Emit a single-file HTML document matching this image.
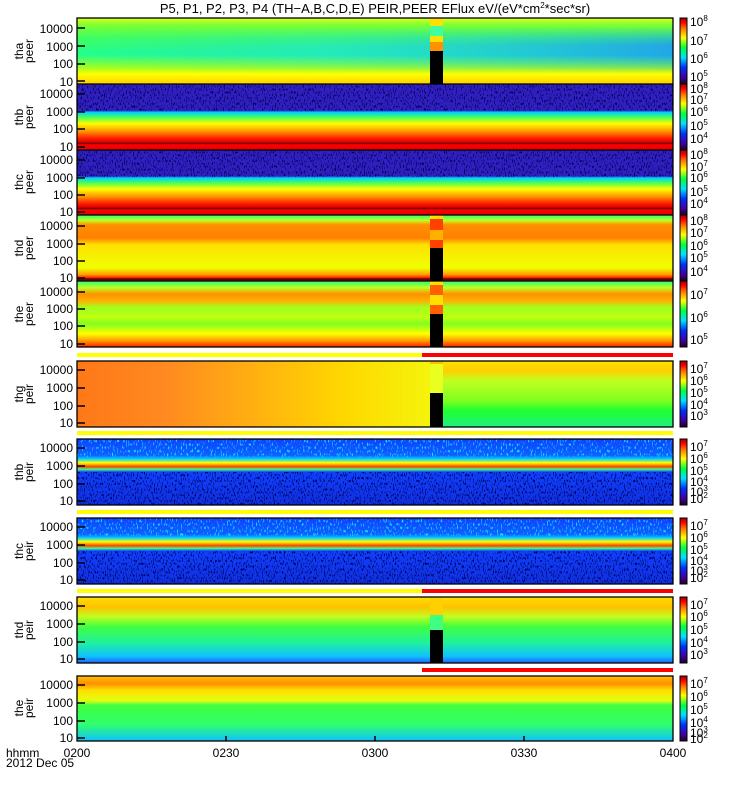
<!DOCTYPE html>
<html><head><meta charset="utf-8"><style>
html,body{margin:0;padding:0;background:#fff;width:750px;height:800px;overflow:hidden}
svg{display:block;font-family:"Liberation Sans",sans-serif}
</style></head><body>
<svg width="750" height="800" viewBox="0 0 750 800" xmlns="http://www.w3.org/2000/svg">
<defs>
<linearGradient id="cb" x1="0" y1="1" x2="0" y2="0">
<stop offset="0" stop-color="#200020"/><stop offset="0.1" stop-color="#4000a0"/><stop offset="0.25" stop-color="#0030ff"/>
<stop offset="0.4" stop-color="#00e0ff"/><stop offset="0.55" stop-color="#00ff40"/><stop offset="0.7" stop-color="#ffff00"/>
<stop offset="0.83" stop-color="#ff8000"/><stop offset="0.93" stop-color="#ff0000"/><stop offset="1" stop-color="#a00000"/>
</linearGradient>
<linearGradient id="g1" x1="0" y1="0" x2="0" y2="1">
<stop offset="0" stop-color="#e0ff20"/><stop offset="0.1" stop-color="#80ff30"/><stop offset="0.3" stop-color="#40ff60"/>
<stop offset="0.55" stop-color="#20ff90"/><stop offset="0.75" stop-color="#a0ff20"/><stop offset="0.85" stop-color="#ffff00"/><stop offset="1" stop-color="#ffd000"/>
</linearGradient>
<linearGradient id="g1h" x1="0" y1="0" x2="1" y2="0">
<stop offset="0" stop-color="#20c0ff" stop-opacity="0"/><stop offset="0.4" stop-color="#20d0ff" stop-opacity="0.4"/><stop offset="1" stop-color="#2090ff" stop-opacity="0.8"/>
</linearGradient>
<linearGradient id="mv" x1="0" y1="0" x2="0" y2="1">
<stop offset="0" stop-color="#fff" stop-opacity="0"/><stop offset="0.4" stop-color="#fff" stop-opacity="1"/><stop offset="0.6" stop-color="#fff" stop-opacity="1"/><stop offset="1" stop-color="#fff" stop-opacity="0"/>
</linearGradient>
<mask id="m1"><rect x="77" y="26" width="596" height="48" fill="url(#mv)"/></mask>
<linearGradient id="g2" x1="0" y1="0" x2="0" y2="1">
<stop offset="0" stop-color="#3020c0"/><stop offset="0.4" stop-color="#3020c0"/><stop offset="0.43" stop-color="#00d0ff"/>
<stop offset="0.5" stop-color="#40ff60"/><stop offset="0.6" stop-color="#ffff00"/><stop offset="0.72" stop-color="#ff9000"/>
<stop offset="0.82" stop-color="#ff2000"/><stop offset="0.88" stop-color="#e00000"/><stop offset="0.9" stop-color="#600000"/><stop offset="0.92" stop-color="#ff0000"/><stop offset="1" stop-color="#e00000"/>
</linearGradient>
<linearGradient id="g4" x1="0" y1="0" x2="0" y2="1">
<stop offset="0" stop-color="#20ff80"/><stop offset="0.08" stop-color="#c0ff20"/><stop offset="0.15" stop-color="#ff9000"/>
<stop offset="0.35" stop-color="#ff8000"/><stop offset="0.45" stop-color="#ffe000"/><stop offset="0.8" stop-color="#f0ff00"/>
<stop offset="0.9" stop-color="#ffa000"/><stop offset="0.95" stop-color="#ff2000"/><stop offset="0.97" stop-color="#400000"/><stop offset="1" stop-color="#ff0000"/>
</linearGradient>
<linearGradient id="g5" x1="0" y1="0" x2="0" y2="1">
<stop offset="0" stop-color="#20ff80"/><stop offset="0.1" stop-color="#c0ff20"/><stop offset="0.2" stop-color="#ff9000"/>
<stop offset="0.3" stop-color="#ffb000"/><stop offset="0.4" stop-color="#a0ff20"/><stop offset="0.55" stop-color="#c0ff10"/>
<stop offset="0.65" stop-color="#80ff20"/><stop offset="0.8" stop-color="#ffff00"/><stop offset="0.9" stop-color="#ffa000"/><stop offset="1" stop-color="#ff2000"/>
</linearGradient>
<linearGradient id="g6" x1="0" y1="0" x2="1" y2="0">
<stop offset="0" stop-color="#ff7818"/><stop offset="0.15" stop-color="#ff8a20"/><stop offset="0.45" stop-color="#ffd800"/>
<stop offset="0.65" stop-color="#f0ff10"/><stop offset="1" stop-color="#b0ff20"/>
</linearGradient>
<linearGradient id="g6r" x1="0" y1="0" x2="0" y2="1">
<stop offset="0" stop-color="#ffe000"/><stop offset="0.15" stop-color="#ffd000"/><stop offset="0.3" stop-color="#c0ff20"/>
<stop offset="0.6" stop-color="#80ff20"/><stop offset="0.75" stop-color="#20ff30"/><stop offset="1" stop-color="#20f080"/>
</linearGradient>
<linearGradient id="g7" x1="0" y1="0" x2="0" y2="1">
<stop offset="0" stop-color="#1040ff"/><stop offset="0.25" stop-color="#1060ff"/><stop offset="0.3" stop-color="#00d0ff"/>
<stop offset="0.36" stop-color="#ffff00"/><stop offset="0.42" stop-color="#ff4000"/><stop offset="0.46" stop-color="#40ff80"/>
<stop offset="0.5" stop-color="#1040ff"/><stop offset="1" stop-color="#1030e0"/>
</linearGradient>
<linearGradient id="g9" x1="0" y1="0" x2="0" y2="1">
<stop offset="0" stop-color="#ffe000"/><stop offset="0.15" stop-color="#ffc000"/><stop offset="0.3" stop-color="#c0ff20"/>
<stop offset="0.45" stop-color="#40ff40"/><stop offset="0.7" stop-color="#20f0a0"/><stop offset="0.9" stop-color="#10c0ff"/><stop offset="1" stop-color="#2060ff"/>
</linearGradient>
<linearGradient id="g10" x1="0" y1="0" x2="0" y2="1">
<stop offset="0" stop-color="#ffc000"/><stop offset="0.12" stop-color="#ff9000"/><stop offset="0.22" stop-color="#ffe000"/>
<stop offset="0.38" stop-color="#e0ff10"/><stop offset="0.45" stop-color="#40ff40"/><stop offset="0.75" stop-color="#30ff70"/><stop offset="1" stop-color="#10c0ff"/>
</linearGradient>
<filter id="nz" x="0" y="0" width="100%" height="100%">
<feTurbulence type="fractalNoise" baseFrequency="0.9 0.35" numOctaves="1" seed="3"/>
<feColorMatrix type="matrix" values="0 0 0 0 0  0 0 0 0 0  0 0 0 0 0.1  0 0 0 6 -3.2"/>
</filter>
<filter id="nz2" x="0" y="0" width="100%" height="100%">
<feTurbulence type="fractalNoise" baseFrequency="0.8 0.3" numOctaves="1" seed="7"/>
<feColorMatrix type="matrix" values="0 0 0 0 0  0 0 0 0 0.9  0 0 0 0 1  0 0 0 6 -3.4"/>
</filter>
</defs>

<text x="375" y="13" font-size="13" text-anchor="middle">P5, P1, P2, P3, P4 (TH−A,B,C,D,E) PEIR,PEER EFlux eV/(eV*cm<tspan font-size="8" dy="-5">2</tspan><tspan dy="5">*sec*sr)</tspan></text>

<!-- panel 1 -->
<rect x="77" y="18" width="596" height="66" fill="url(#g1)"/>
<rect x="77" y="26" width="596" height="48" fill="url(#g1h)" mask="url(#m1)"/>
<rect x="430" y="18" width="13" height="33" fill="#ffe000"/><rect x="430" y="26" width="13" height="10" fill="#40ffa0"/><rect x="430" y="42" width="13" height="9" fill="#ff9000"/>
<rect x="430" y="51" width="13" height="33" fill="#000"/>
<!-- panel 2 -->
<rect x="77" y="84" width="596" height="66" fill="url(#g2)"/>
<rect x="77" y="84" width="596" height="27" filter="url(#nz)"/>
<!-- panel 3 -->
<rect x="77" y="150" width="596" height="65" fill="url(#g2)"/>
<rect x="77" y="150" width="596" height="27" filter="url(#nz)"/>
<!-- panel 4 -->
<rect x="77" y="215" width="596" height="66" fill="url(#g4)"/>
<rect x="430" y="215" width="13" height="33" fill="#ff4000"/><rect x="430" y="215" width="13" height="4" fill="#ffe000"/><rect x="430" y="230" width="13" height="10" fill="#ffb000"/>
<rect x="430" y="248" width="13" height="33" fill="#000"/>
<!-- panel 5 -->
<rect x="77" y="281" width="596" height="66" fill="url(#g5)"/>
<rect x="430" y="281" width="13" height="33" fill="#ff6000"/><rect x="430" y="281" width="13" height="4" fill="#ffe000"/><rect x="430" y="295" width="13" height="10" fill="#ffe000"/>
<rect x="430" y="314" width="13" height="33" fill="#000"/>
<rect x="77" y="353" width="345" height="4" fill="#ffff00"/><rect x="422" y="353" width="251" height="4" fill="#ff0000"/>
<!-- panel 6 -->
<rect x="77" y="361" width="596" height="66" fill="url(#g6)"/>
<rect x="443" y="361" width="230" height="66" fill="url(#g6r)"/>
<rect x="430" y="361" width="13" height="32" fill="#e8ff20"/><rect x="430" y="361" width="13" height="3" fill="#ffc000"/>
<rect x="430" y="393" width="13" height="34" fill="#000"/>
<rect x="77" y="431" width="596" height="4" fill="#ffff00"/>
<!-- panel 7 -->
<rect x="77" y="439" width="596" height="66" fill="url(#g7)"/>
<rect x="77" y="439" width="596" height="18" filter="url(#nz2)"/>
<rect x="77" y="472" width="596" height="33" filter="url(#nz)"/>
<rect x="77" y="510" width="596" height="4" fill="#ffff00"/>
<!-- panel 8 -->
<rect x="77" y="518" width="596" height="66" fill="url(#g7)"/>
<rect x="77" y="518" width="596" height="18" filter="url(#nz2)"/>
<rect x="77" y="551" width="596" height="33" filter="url(#nz)"/>
<rect x="77" y="589" width="345" height="4" fill="#ffff00"/><rect x="422" y="589" width="251" height="4" fill="#ff0000"/>
<!-- panel 9 -->
<rect x="77" y="597" width="596" height="66" fill="url(#g9)"/>
<rect x="430" y="597" width="13" height="33" fill="#ffd000"/><rect x="430" y="615" width="13" height="15" fill="#40ff80"/>
<rect x="430" y="630" width="13" height="33" fill="#000"/>
<rect x="422" y="668" width="251" height="4" fill="#ff0000"/>
<!-- panel 10 -->
<rect x="77" y="676" width="596" height="65" fill="url(#g10)"/>

<g fill="none" stroke="#000" stroke-width="1.3">
<rect x="77" y="18" width="596" height="329"/>
<line x1="77" y1="84" x2="673" y2="84"/><line x1="77" y1="150" x2="673" y2="150"/><line x1="77" y1="215" x2="673" y2="215"/><line x1="77" y1="281" x2="673" y2="281"/>
<rect x="77" y="361" width="596" height="66"/><rect x="77" y="439" width="596" height="66"/><rect x="77" y="518" width="596" height="66"/><rect x="77" y="597" width="596" height="66"/><rect x="77" y="676" width="596" height="65"/>
</g>
<g stroke="#000" stroke-width="1.5">
<line x1="226" y1="736" x2="226" y2="741"/><line x1="375" y1="736" x2="375" y2="741"/><line x1="524" y1="736" x2="524" y2="741"/>
<!-- y major ticks -->
<path d="M77 28h8M77 46h8M77 64h8M77 81h8M77 94h8M77 112h8M77 129h8M77 147h8M77 160h8M77 178h8M77 195h8M77 212h8M77 226h8M77 244h8M77 261h8M77 278h8M77 292h8M77 309h8M77 326h8M77 344h8M77 370h8M77 388h8M77 406h8M77 423h8M77 448h8M77 466h8M77 484h8M77 501h8M77 527h8M77 545h8M77 563h8M77 580h8M77 606h8M77 624h8M77 642h8M77 659h8M77 685h8M77 703h8M77 721h8M77 738h8"/>
</g>
<!-- colorbars -->
<g fill="url(#cb)" stroke="#000" stroke-width="1">
<rect x="680" y="18" width="7" height="66"/><rect x="680" y="84" width="7" height="66"/><rect x="680" y="150" width="7" height="65"/><rect x="680" y="215" width="7" height="66"/><rect x="680" y="281" width="7" height="66"/>
<rect x="680" y="361" width="7" height="66"/><rect x="680" y="439" width="7" height="66"/><rect x="680" y="518" width="7" height="66"/><rect x="680" y="597" width="7" height="66"/><rect x="680" y="676" width="7" height="65"/>
</g>
<g font-size="12" fill="#000">
<g text-anchor="end">
<text x="73" y="33">10000</text><text x="73" y="51">1000</text><text x="73" y="68">100</text><text x="73" y="86">10</text>
<text x="73" y="98">10000</text><text x="73" y="116">1000</text><text x="73" y="133">100</text><text x="73" y="151">10</text>
<text x="73" y="164">10000</text><text x="73" y="182">1000</text><text x="73" y="199">100</text><text x="73" y="216">10</text>
<text x="73" y="230">10000</text><text x="73" y="248">1000</text><text x="73" y="265">100</text><text x="73" y="282">10</text>
<text x="73" y="296">10000</text><text x="73" y="313">1000</text><text x="73" y="330">100</text><text x="73" y="348">10</text>
<text x="73" y="374">10000</text><text x="73" y="392">1000</text><text x="73" y="410">100</text><text x="73" y="427">10</text>
<text x="73" y="452">10000</text><text x="73" y="470">1000</text><text x="73" y="488">100</text><text x="73" y="505">10</text>
<text x="73" y="531">10000</text><text x="73" y="549">1000</text><text x="73" y="567">100</text><text x="73" y="584">10</text>
<text x="73" y="610">10000</text><text x="73" y="628">1000</text><text x="73" y="646">100</text><text x="73" y="663">10</text>
<text x="73" y="689">10000</text><text x="73" y="707">1000</text><text x="73" y="725">100</text><text x="73" y="742">10</text>
</g>
<g text-anchor="middle" font-size="12">
<text transform="translate(23,51) rotate(-90)">tha</text><text transform="translate(33,51) rotate(-90)">peer</text>
<text transform="translate(23,117) rotate(-90)">thb</text><text transform="translate(33,117) rotate(-90)">peer</text>
<text transform="translate(23,182) rotate(-90)">thc</text><text transform="translate(33,182) rotate(-90)">peer</text>
<text transform="translate(23,248) rotate(-90)">thd</text><text transform="translate(33,248) rotate(-90)">peer</text>
<text transform="translate(23,314) rotate(-90)">the</text><text transform="translate(33,314) rotate(-90)">peer</text>
<text transform="translate(23,394) rotate(-90)">thg</text><text transform="translate(33,394) rotate(-90)">peir</text>
<text transform="translate(23,472) rotate(-90)">thb</text><text transform="translate(33,472) rotate(-90)">peir</text>
<text transform="translate(23,551) rotate(-90)">thc</text><text transform="translate(33,551) rotate(-90)">peir</text>
<text transform="translate(23,630) rotate(-90)">thd</text><text transform="translate(33,630) rotate(-90)">peir</text>
<text transform="translate(23,708) rotate(-90)">the</text><text transform="translate(33,708) rotate(-90)">peir</text>
</g>
<g text-anchor="middle"><text x="77" y="757">0200</text><text x="226" y="757">0230</text><text x="375" y="757">0300</text><text x="524" y="757">0330</text><text x="673" y="757">0400</text></g>
<text x="6" y="757">hhmm</text><text x="6" y="767">2012 Dec 05</text>
<g font-size="12">
<text x="690" y="26">10<tspan font-size="8" dy="-5">8</tspan></text><text x="690" y="45">10<tspan font-size="8" dy="-5">7</tspan></text><text x="690" y="63">10<tspan font-size="8" dy="-5">6</tspan></text><text x="690" y="81">10<tspan font-size="8" dy="-5">5</tspan></text>
<text x="690" y="93">10<tspan font-size="8" dy="-5">8</tspan></text><text x="690" y="104">10<tspan font-size="8" dy="-5">7</tspan></text><text x="690" y="116">10<tspan font-size="8" dy="-5">6</tspan></text><text x="690" y="130">10<tspan font-size="8" dy="-5">5</tspan></text><text x="690" y="143">10<tspan font-size="8" dy="-5">4</tspan></text>
<text x="690" y="159">10<tspan font-size="8" dy="-5">8</tspan></text><text x="690" y="171">10<tspan font-size="8" dy="-5">7</tspan></text><text x="690" y="182">10<tspan font-size="8" dy="-5">6</tspan></text><text x="690" y="196">10<tspan font-size="8" dy="-5">5</tspan></text><text x="690" y="208">10<tspan font-size="8" dy="-5">4</tspan></text>
<text x="690" y="225">10<tspan font-size="8" dy="-5">8</tspan></text><text x="690" y="237">10<tspan font-size="8" dy="-5">7</tspan></text><text x="690" y="250">10<tspan font-size="8" dy="-5">6</tspan></text><text x="690" y="262">10<tspan font-size="8" dy="-5">5</tspan></text><text x="690" y="276">10<tspan font-size="8" dy="-5">4</tspan></text>
<text x="690" y="299">10<tspan font-size="8" dy="-5">7</tspan></text><text x="690" y="322">10<tspan font-size="8" dy="-5">6</tspan></text><text x="690" y="344">10<tspan font-size="8" dy="-5">5</tspan></text>
<text x="690" y="373">10<tspan font-size="8" dy="-5">7</tspan></text><text x="690" y="385">10<tspan font-size="8" dy="-5">6</tspan></text><text x="690" y="397">10<tspan font-size="8" dy="-5">5</tspan></text><text x="690" y="409">10<tspan font-size="8" dy="-5">4</tspan></text><text x="690" y="420">10<tspan font-size="8" dy="-5">3</tspan></text>
<text x="690" y="451">10<tspan font-size="8" dy="-5">7</tspan></text><text x="690" y="463">10<tspan font-size="8" dy="-5">6</tspan></text><text x="690" y="475">10<tspan font-size="8" dy="-5">5</tspan></text><text x="690" y="486">10<tspan font-size="8" dy="-5">4</tspan></text><text x="690" y="496">10<tspan font-size="8" dy="-5">3</tspan></text><text x="690" y="503">10<tspan font-size="8" dy="-5">2</tspan></text>
<text x="690" y="530">10<tspan font-size="8" dy="-5">7</tspan></text><text x="690" y="542">10<tspan font-size="8" dy="-5">6</tspan></text><text x="690" y="554">10<tspan font-size="8" dy="-5">5</tspan></text><text x="690" y="565">10<tspan font-size="8" dy="-5">4</tspan></text><text x="690" y="575">10<tspan font-size="8" dy="-5">3</tspan></text><text x="690" y="582">10<tspan font-size="8" dy="-5">2</tspan></text>
<text x="690" y="609">10<tspan font-size="8" dy="-5">7</tspan></text><text x="690" y="621">10<tspan font-size="8" dy="-5">6</tspan></text><text x="690" y="634">10<tspan font-size="8" dy="-5">5</tspan></text><text x="690" y="647">10<tspan font-size="8" dy="-5">4</tspan></text><text x="690" y="659">10<tspan font-size="8" dy="-5">3</tspan></text>
<text x="690" y="688">10<tspan font-size="8" dy="-5">7</tspan></text><text x="690" y="701">10<tspan font-size="8" dy="-5">6</tspan></text><text x="690" y="714">10<tspan font-size="8" dy="-5">5</tspan></text><text x="690" y="727">10<tspan font-size="8" dy="-5">4</tspan></text><text x="690" y="737">10<tspan font-size="8" dy="-5">3</tspan></text><text x="690" y="743">10<tspan font-size="8" dy="-5">2</tspan></text>
</g>
</g>
</svg>
</body></html>
